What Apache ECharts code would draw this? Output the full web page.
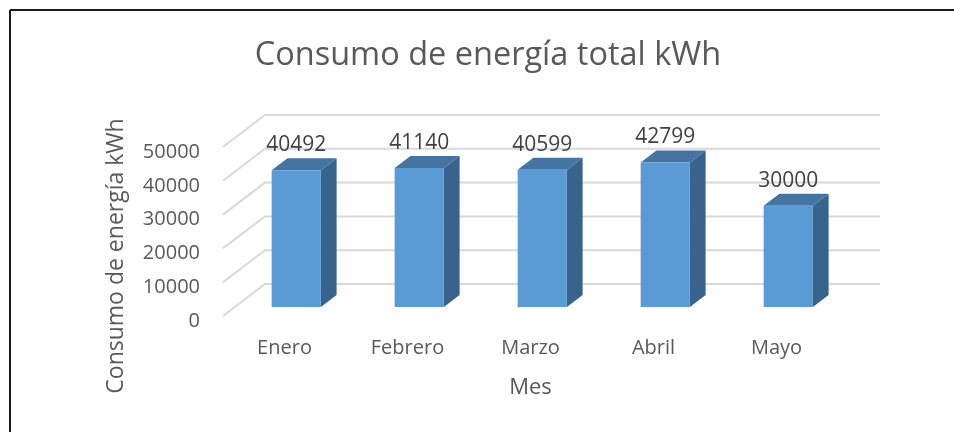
<!DOCTYPE html>
<html>
<head>
<meta charset="utf-8">
<script src="https://cdn.jsdelivr.net/npm/echarts@6/dist/echarts.min.js"></script>
<style>html,body{margin:0;padding:0;background:#fff}#c{width:954px;height:432px}</style>
</head>
<body>
<div id="c"></div>
<script>
const categories = ['Enero', 'Febrero', 'Marzo', 'Abril', 'Mayo'];
const values = [40492, 41140, 40599, 42799, 30000];
const yTicks = [0, 10000, 20000, 30000, 40000, 50000];

const FONT = 'Open Sans';
const DX = 42, DY = -32;           // depth of the 3D box in pixels
const BAR_FRONT = 0.28, BAR_DEPTH = 0.375;

const chart = echarts.init(document.getElementById('c'), null, {renderer: 'canvas'});

chart.setOption({
  animation: false,
  backgroundColor: '#ffffff',
  grid: {left: 223, right: 116, top: 147, bottom: 116},
  xAxis: {
    type: 'category',
    data: categories,
    name: 'Mes',
    nameLocation: 'middle',
    nameGap: 61,
    nameTextStyle: {fontFamily: FONT, fontSize: 22, color: '#595959'},
    axisLine: {show: false},
    axisTick: {show: false},
    axisLabel: {fontFamily: FONT, fontSize: 20, color: '#595959', margin: 22}
  },
  yAxis: {
    type: 'value',
    min: 0, max: 50000, interval: 10000,
    axisLine: {show: false},
    axisTick: {show: false},
    splitLine: {show: false},
    axisLabel: {fontFamily: FONT, fontSize: 20, color: '#595959', margin: 23,
                verticalAlign: 'top', lineHeight: 10,
                formatter: v => String(v)}
  },
  graphic: [
    {type: 'line', shape: {x1: 10, y1: 10, x2: 954, y2: 10}, style: {stroke: '#1a1a1a', lineWidth: 2}},
    {type: 'line', shape: {x1: 10, y1: 10, x2: 10, y2: 432}, style: {stroke: '#1a1a1a', lineWidth: 2}},
    {type: 'text', x: 488, y: 56,
     style: {text: 'Consumo de energía total kWh', fontFamily: FONT, fontSize: 32.5, fill: '#595959',
             align: 'center', verticalAlign: 'middle'}},
    {type: 'text', x: 116, y: 256, rotation: Math.PI / 2,
     style: {text: 'Consumo de energía kWh', fontFamily: FONT, fontSize: 23, fill: '#595959',
             align: 'center', verticalAlign: 'middle'}}
  ],
  series: [
    {
      type: 'custom',
      z: 1,
      silent: true,
      data: yTicks.map(t => [0, t]),
      renderItem: function (params, api) {
        const cs = params.coordSys;
        const y = api.coord([0, api.value(1)])[1];
        const x0 = cs.x;
        return {
          type: 'polyline',
          shape: {points: [[x0, y], [x0 + DX, y + DY], [x0 + cs.width + DX, y + DY]]},
          style: {stroke: '#d9d9d9', lineWidth: 2, fill: null}
        };
      }
    },
    {
      type: 'custom',
      z: 2,
      data: values.map((v, i) => [i, v]),
      renderItem: function (params, api) {
        const cat = api.value(0), v = api.value(1);
        const top = api.coord([cat, v]);
        const base = api.coord([cat, 0]);
        const w = api.size([1, 0])[0] * 0.4;
        const ox = DX * BAR_FRONT, oy = DY * BAR_FRONT;
        const bx = DX * BAR_DEPTH, by = DY * BAR_DEPTH;
        const x0 = top[0] + ox - w / 2, x1 = x0 + w;
        const yT = top[1] + oy, yB = base[1] + oy;
        return {
          type: 'group',
          children: [
            {type: 'polygon', shape: {points: [[x1, yT], [x1 + bx, yT + by], [x1 + bx, yB + by], [x1, yB]]},
             style: {fill: '#37638c'}},
            {type: 'polygon', shape: {points: [[x0, yT], [x0 + bx, yT + by], [x1 + bx, yT + by], [x1, yT]]},
             style: {fill: '#4474a2'}},
            {type: 'rect', shape: {x: x0, y: yT, width: w, height: yB - yT},
             style: {fill: '#5b9bd5'}},
            {type: 'text', x: (x0 + x1) / 2, y: yT + by - 13,
             style: {text: String(v), fontFamily: FONT, fontSize: 21, fill: '#404040',
                     align: 'center', verticalAlign: 'middle'}}
          ]
        };
      }
    }
  ]
});
</script>
</body>
</html>
